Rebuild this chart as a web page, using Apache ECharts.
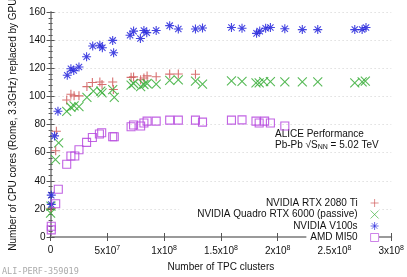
<!DOCTYPE html>
<html><head><meta charset="utf-8">
<script src="https://cdn.jsdelivr.net/npm/echarts@6/dist/echarts.min.js"></script>
<style>html,body{margin:0;padding:0;background:#fff}#c{width:407px;height:277px}</style>
</head><body><div id="c"></div>
<script>
// x values in units of 1e7 TPC clusters
const E7 = 1e7;
const rtx2080 = [[0.06,20.4],[0.45,61.4],[0.51,75.3],[1.42,97.6],[1.79,101.6],[2.07,100.5],[2.5,100.5],[3.2,107.1],[3.68,110],[4.34,110.4],[4.53,108.6],[5.47,110.4],[5.53,105],[7.09,113.7],[7.31,114],[7.93,112],[8.22,113.2],[8.5,114.7],[9.3,114.1],[10.49,116],[11.25,116.1],[12.76,115.9]];
const quadro = [[0.0,17],[0.03,22],[0.43,55.1],[0.71,67.1],[1.42,89.5],[1.79,92.4],[2.07,93.3],[2.5,92.8],[3.2,99.4],[3.77,103.8],[4.42,103.8],[4.53,102.7],[5.47,104.9],[5.61,99.4],[7.09,108.2],[7.31,109.3],[7.93,107.1],[8.22,108.6],[8.5,109.3],[9.3,108.8],[10.49,111.5],[11.25,111.9],[12.76,111],[13.38,108.8],[15.93,111.2],[16.86,110.8],[18.09,109.7],[18.37,109.7],[18.77,110.6],[19.36,110.6],[20.63,110.4],[22.17,110.4],[23.53,110.4],[26.79,109.7],[27.44,110.4],[27.72,111]];
const v100 = [[0.06,23.2],[0.06,29.8],[0.35,72],[0.65,89.5],[1.47,115.2],[1.79,119.8],[2.04,118.5],[2.5,121],[3.17,128.4],[3.71,136],[4.34,136.5],[4.56,134.8],[5.47,140],[5.55,131.2],[7.0,143.7],[7.31,146.6],[7.91,141.3],[8.22,147],[8.47,145.5],[9.3,147],[10.49,150.5],[11.25,148.1],[12.76,148.1],[13.38,148.8],[15.93,149.2],[16.86,148.6],[18.14,145],[18.42,146.6],[18.94,148.6],[19.36,149.2],[20.63,148.3],[22.17,147.7],[23.53,147.7],[26.79,147.7],[27.44,147.7],[27.78,149.2]];
const mi50 = [[0.06,5.1],[0.06,7.7],[0.45,23.7],[0.68,34],[1.42,51.8],[1.79,57.7],[2.13,57.7],[2.5,62.1],[3.17,67.4],[3.68,70.9],[4.3,73.3],[4.5,74.2],[5.47,71.4],[5.61,71.4],[7.09,78.5],[7.31,79.7],[7.93,79],[8.22,81.2],[8.5,82.5],[9.3,82.5],[10.49,83.2],[11.25,83.2],[12.76,83.2],[13.38,81.8],[15.93,83.2],[16.86,83.4],[18.09,82.5],[18.37,81.2],[18.85,82.5],[19.36,81.2],[20.63,79]];
const seriesNames = ['NVIDIA RTX 2080 Ti','NVIDIA Quadro RTX 6000 (passive)','NVIDIA V100s','AMD MI50'];
const xTickLabels = ['0','5x10{sup|7}','1x10{sup|8}','1.5x10{sup|8}','2x10{sup|8}','2.5x10{sup|8}','3x10{sup|8}'];
const yTicks = [0,20,40,60,80,100,120,140,160];

const FONT = '"Liberation Sans", Arial, sans-serif';
const toXY = arr => arr.map(p => [p[0]*E7, p[1]]);
const SYM = {
  plus: 'path://M0,5L10,5M5,0L5,10',
  cross: 'path://M0,0L10,10M10,0L0,10',
  star: 'path://M0,5L10,5M5,0L5,10M1.5,1.5L8.5,8.5M8.5,1.5L1.5,8.5',
  square: 'path://M0,0L10,0L10,10L0,10Z'
};
const colors = ['#d05858','#3aae3a','#2424dc','#b648de'];
const syms = [SYM.plus, SYM.cross, SYM.star, SYM.square];
const sizes = [9, 9, 9, 8];
const datas = [rtx2080, quadro, v100, mi50];

const chart = echarts.init(document.getElementById('c'), null, {renderer:'canvas'});
const axisLine = {show:true, lineStyle:{color:'#9a9a9a', width:2}};
const tick = {show:true, inside:true, length:4, lineStyle:{color:'#555', width:1}};
const rowY = [203, 214.5, 226, 237.5];
const legends = seriesNames.map((n,i)=>({
  data:[{name:n, icon:syms[i], itemStyle:{color:'rgba(0,0,0,0)', borderColor:colors[i], borderWidth:0.8}}],
  orient:'horizontal', align:'right', right:28, top:rowY[i]-6,
  itemWidth:24, itemHeight:8, padding:[1,0,1, i===1?18:4], backgroundColor:'#fff',
  textStyle:{fontFamily:FONT, fontSize:10, color:'#111'}
}));

chart.setOption({
  animation:false,
  grid:{left:40, right:14, top:3, bottom:31, containLabel:false},
  xAxis:[{
    type:'value', min:0, max:3e8, interval:5e7, position:'bottom',
    name:'Number of TPC clusters', nameLocation:'middle', nameGap:25,
    nameTextStyle:{fontFamily:FONT, fontSize:10, color:'#111'},
    axisLine, axisTick:tick, splitLine:{show:false},
    axisLabel:{margin:8, fontFamily:FONT, fontSize:10, color:'#111',
      formatter:(v)=>xTickLabels[Math.round(v/5e7)],
      rich:{sup:{fontFamily:FONT, fontSize:7, color:'#111', padding:[0,0,6,0]}}}
  },{
    type:'value', min:0, max:3e8, interval:5e7, position:'top',
    axisLine, axisTick:tick, axisLabel:{show:false}, splitLine:{show:false}
  }],
  yAxis:[{
    type:'value', min:0, max:160, interval:20, position:'left',
    name:'Number of CPU cores (Rome, 3.3GHz) replaced by GPU', nameLocation:'middle', nameGap:30,
    nameTextStyle:{fontFamily:FONT, fontSize:10, color:'#111'},
    axisLine, axisTick:tick,
    minorTick:{show:true, splitNumber:5, length:2, lineStyle:{color:'#555'}},
    splitLine:{show:true, lineStyle:{color:'#cfcfcf', type:[1,3], width:1}},
    axisLabel:{margin:5, fontFamily:FONT, fontSize:10, color:'#111',
      formatter:(v)=> yTicks.includes(v) ? String(v) : ''}
  },{
    type:'value', min:0, max:160, interval:20, position:'right',
    axisLine, axisTick:tick,
    minorTick:{show:true, splitNumber:5, length:2, lineStyle:{color:'#555'}},
    axisLabel:{show:false}, splitLine:{show:false}
  }],
  legend: legends,
  series: seriesNames.map((n,i)=>({
    name:n, type:'scatter', xAxisIndex:0, yAxisIndex:0,
    symbol:syms[i], symbolSize:sizes[i],
    itemStyle:{color:'rgba(0,0,0,0)', borderColor:colors[i], borderWidth:1.1, opacity:0.85},
    data:toXY(datas[i]), z: 2+i
  })),
  graphic:[
    {type:'text', left:275, top:129, style:{text:'ALICE Performance', font:'10px '+FONT, fill:'#111'}},
    {type:'text', left:275, top:140, style:{text:'Pb-Pb √{o|S}{sub|NN} = 5.02 TeV', font:'10px '+FONT, fill:'#111',
      rich:{o:{fontFamily:FONT, fontSize:10, textBorderWidth:0}, sub:{fontFamily:FONT, fontSize:7, padding:[4,0,0,0]}}}},
    {type:'text', left:2, top:267, style:{text:'ALI-PERF-359019', font:'8.5px "DejaVu Sans Mono", monospace', fill:'#aaa'}}
  ]
});
</script></body></html>
